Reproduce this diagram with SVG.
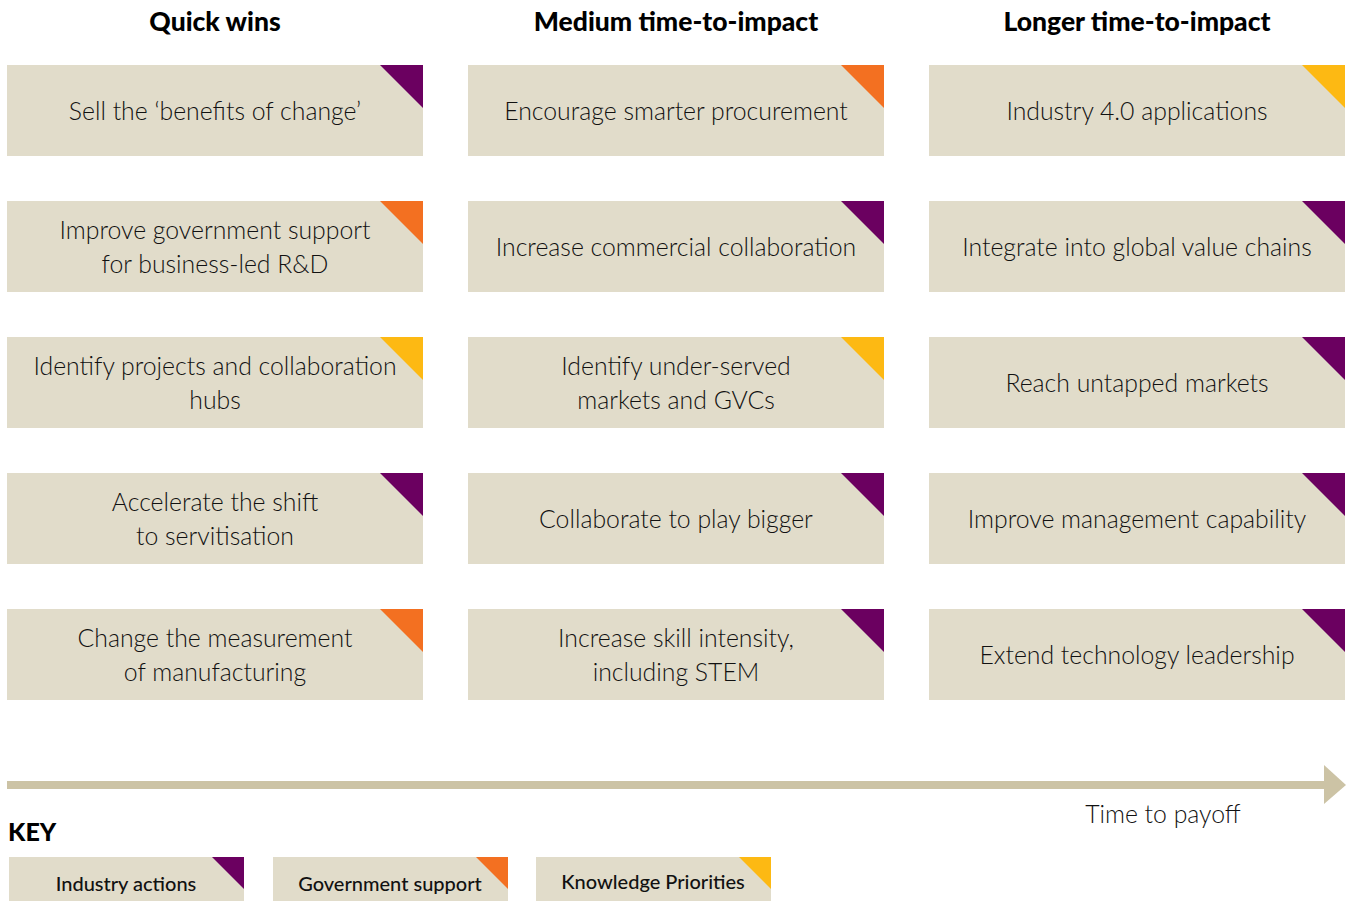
<svg xmlns="http://www.w3.org/2000/svg" width="1353" height="901" viewBox="0 0 1353 901">
<style>
.box{fill:#E1DCCA}
.p{fill:#6B0060}
.o{fill:#F37021}
.y{fill:#FDB913}
.t{font-family:Lato,"Noto Sans",sans-serif;font-weight:300;font-size:24.8px;fill:#111;text-anchor:middle}
.h{font-family:Lato,"Noto Sans",sans-serif;font-weight:900;font-size:26.5px;fill:#000;text-anchor:middle}
.k{font-family:Lato,"Noto Sans",sans-serif;font-weight:500;font-size:20px;fill:#111;text-anchor:middle}
</style>
<defs>
<rect id="b" class="box" width="416" height="91"/>
<polygon id="cp" class="p" points="373,0 416,0 416,43"/>
<polygon id="co" class="o" points="373,0 416,0 416,43"/>
<polygon id="cy" class="y" points="373,0 416,0 416,43"/>
</defs>
<rect width="1353" height="901" fill="#fff"/>
<g id="headers">
<text class="h" x="215" y="31">Quick wins</text>
<text class="h" x="676" y="31">Medium time-to-impact</text>
<text class="h" x="1137" y="31">Longer time-to-impact</text>
</g>
<g id="n1" transform="translate(7,65)"><use href="#b"/><use href="#cp"/><text class="t" x="208" y="55">Sell the ‘benefits of change’</text></g>
<g id="n2" transform="translate(7,201)"><use href="#b"/><use href="#co"/><text class="t" x="208" y="38">Improve government support</text><text class="t" x="208" y="72">for business-led R&amp;D</text></g>
<g id="n3" transform="translate(7,337)"><use href="#b"/><use href="#cy"/><text class="t" x="208" y="38">Identify projects and collaboration</text><text class="t" x="208" y="72">hubs</text></g>
<g id="n4" transform="translate(7,473)"><use href="#b"/><use href="#cp"/><text class="t" x="208" y="38">Accelerate the shift</text><text class="t" x="208" y="72">to servitisation</text></g>
<g id="n5" transform="translate(7,609)"><use href="#b"/><use href="#co"/><text class="t" x="208" y="38">Change the measurement</text><text class="t" x="208" y="72">of manufacturing</text></g>

<g id="n6" transform="translate(468,65)"><use href="#b"/><use href="#co"/><text class="t" x="208" y="55">Encourage smarter procurement</text></g>
<g id="n7" transform="translate(468,201)"><use href="#b"/><use href="#cp"/><text class="t" x="208" y="55">Increase commercial collaboration</text></g>
<g id="n8" transform="translate(468,337)"><use href="#b"/><use href="#cy"/><text class="t" x="208" y="38">Identify under-served</text><text class="t" x="208" y="72">markets and GVCs</text></g>
<g id="n9" transform="translate(468,473)"><use href="#b"/><use href="#cp"/><text class="t" x="208" y="55">Collaborate to play bigger</text></g>
<g id="n10" transform="translate(468,609)"><use href="#b"/><use href="#cp"/><text class="t" x="208" y="38">Increase skill intensity,</text><text class="t" x="208" y="72">including STEM</text></g>

<g id="n11" transform="translate(929,65)"><use href="#b"/><use href="#cy"/><text class="t" x="208" y="55">Industry 4.0 applications</text></g>
<g id="n12" transform="translate(929,201)"><use href="#b"/><use href="#cp"/><text class="t" x="208" y="55">Integrate into global value chains</text></g>
<g id="n13" transform="translate(929,337)"><use href="#b"/><use href="#cp"/><text class="t" x="208" y="55">Reach untapped markets</text></g>
<g id="n14" transform="translate(929,473)"><use href="#b"/><use href="#cp"/><text class="t" x="208" y="55">Improve management capability</text></g>
<g id="n15" transform="translate(929,609)"><use href="#b"/><use href="#cp"/><text class="t" x="208" y="55">Extend technology leadership</text></g>

<g id="connectors">
<rect x="7" y="781" width="1320" height="8" fill="#CCC3A5"/>
<polygon points="1324,765 1346,785 1324,804" fill="#CCC3A5"/>
</g>
<text class="t" x="1163" y="823">Time to payoff</text>

<g id="key">
<text x="8" y="841" style="font-family:Lato,'Noto Sans',sans-serif;font-weight:900;font-size:25px;fill:#000">KEY</text>
<rect class="box" x="9" y="857" width="235" height="44"/>
<polygon class="p" points="212,857 244,857 244,889"/>
<text class="k" x="126" y="891">Industry actions</text>
<rect class="box" x="273" y="857" width="235" height="44"/>
<polygon class="o" points="476,857 508,857 508,889"/>
<text class="k" x="390" y="891">Government support</text>
<rect class="box" x="536" y="857" width="235" height="44"/>
<polygon class="y" points="739,857 771,857 771,889"/>
<text class="k" x="653" y="889">Knowledge Priorities</text>
</g>
</svg>
